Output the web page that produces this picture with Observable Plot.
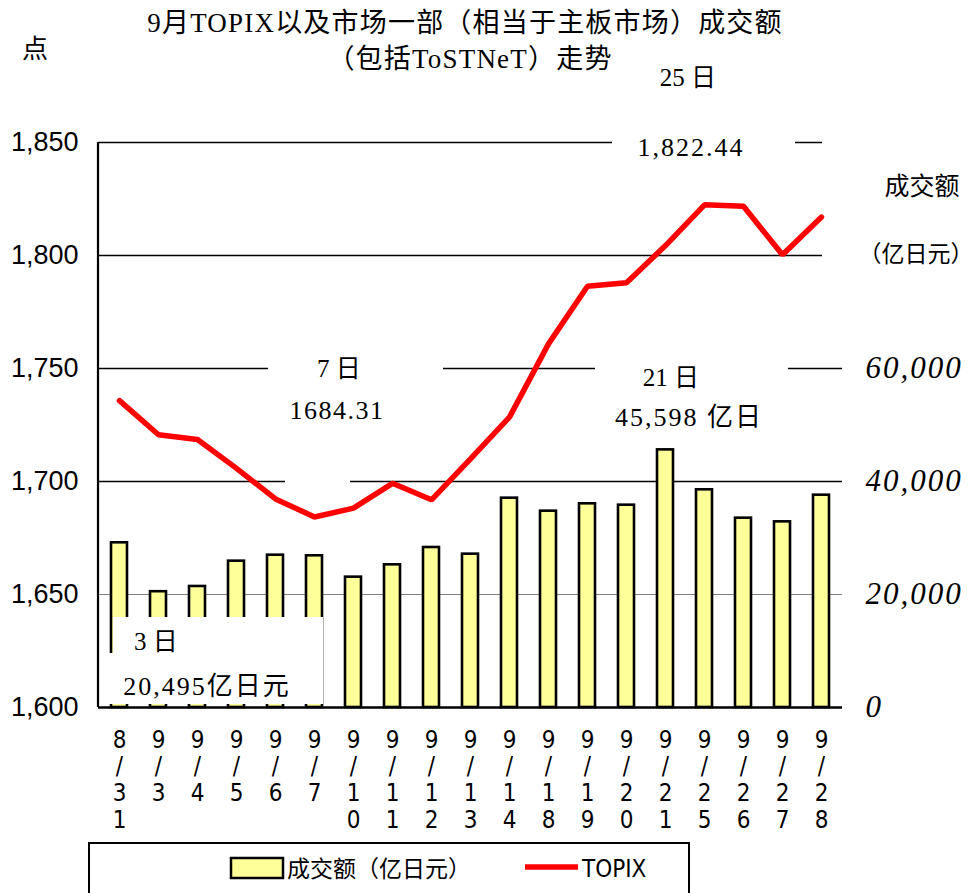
<!DOCTYPE html>
<html><head><meta charset="utf-8">
<script src="https://cdn.jsdelivr.net/npm/d3@7"></script>
<script src="https://cdn.jsdelivr.net/npm/@observablehq/plot@0.6"></script>
<style>
body{margin:0;background:#fff}
#chart{position:relative;width:976px;height:893px;overflow:hidden}
svg{display:block}
</style>
</head><body><div id="chart"></div>
<script>
// ---- data ----
const dates = ["8/31","9/3","9/4","9/5","9/6","9/7","9/10","9/11","9/12","9/13","9/14","9/18","9/19","9/20","9/21","9/25","9/26","9/27","9/28"];
const volume = [29150,20495,21420,25900,26960,26850,23070,25250,28320,27140,37050,34750,36050,35810,45598,38530,33510,32860,37580];
const topix = [1735.8,1720.7,1718.6,1705.8,1692.3,1684.31,1688.2,1699.2,1691.9,1710.0,1728.5,1760.9,1786.4,1787.9,1804.4,1822.44,1821.8,1800.3,1817.0];
const leftTicks = [1600,1650,1700,1750,1800,1850];
const rightTicks = [0,20000,40000,60000];
const titleLines = ["9月TOPIX以及市场一部（相当于主板市场）成交额","（包括ToSTNeT）走势"];
const legendLabels = ["成交额（亿日元）","TOPIX"];

// volume (亿日元) mapped onto the TOPIX axis: 0 → 1600, 20,000 → 1650
const volToY = v => 1600 + v * 50 / 20000;
const rows = dates.map((d,i)=>({date:d, vol:volume[i], topix:topix[i]}));

const serif = "'Liberation Serif','Noto Sans CJK SC',serif";
const cjk = "'Noto Sans CJK SC',sans-serif";
const narrow = "'Liberation Sans Narrow','DejaVu Sans Condensed','Liberation Sans',sans-serif";

const plot = Plot.plot({
  width:976, height:893,
  marginLeft:98, marginRight:134, marginTop:142, marginBottom:186,
  style:{background:"#fff", overflow:"visible"},
  x:{type:"band", domain:dates, paddingInner:0.6, paddingOuter:0.3, axis:null},
  y:{domain:[1600,1850], axis:null},
  marks:[
    Plot.ruleY([1650], {stroke:"#808080", strokeWidth:1.2}),
    Plot.ruleY([1700,1750,1800,1850], {stroke:"#000", strokeWidth:1.6}),
    Plot.barY(rows, {x:"date", y1:1600, y2:d=>volToY(d.vol), fill:"#FFFF99", stroke:"#000", strokeWidth:2.6}),
    Plot.line(rows, {x:"date", y:"topix", stroke:"#FF0000", strokeWidth:5.5, strokeLinejoin:"miter"}),
    Plot.ruleY([1600], {stroke:"#000", strokeWidth:2.4}),
    Plot.text(leftTicks, {y:d=>d, frameAnchor:"left", textAnchor:"end", dx:-20, text:d=>d3.format(",")(d), fontSize:27, fontFamily:"'Liberation Sans',sans-serif", fill:"#000"}),
    Plot.text(rightTicks, {y:d=>volToY(d), frameAnchor:"right", textAnchor:"start", dx:23, text:d=>d3.format(",")(d), fontSize:31, fontStyle:"italic", fontFamily:"'Liberation Serif',serif", fill:"#000"}),
    Plot.text(dates, {x:d=>d, frameAnchor:"bottom", lineAnchor:"top", dy:21, text:d=>d.split("").join("\n"), lineHeight:1.12, fontSize:24, fontFamily:narrow, fill:"#000"})
  ]
});
document.getElementById("chart").appendChild(plot);

const svg = d3.select(plot);
const xs = plot.scale("x"), ys = plot.scale("y");
const py = v => ys.apply(v);

// letter-spacing for right axis labels
svg.selectAll('g[aria-label="text"]').filter((d,i)=>i===1).attr("letter-spacing",2);

// left axis line
svg.append("line").attr("x1",98).attr("x2",98).attr("y1",py(1850)).attr("y2",py(1600)).attr("stroke","#000").attr("stroke-width",2.2);

// white annotation boxes (under the TOPIX line)
const boxes = [
  [612,58,183,110],   // 25日
  [268,345,175,75],   // 7日
  [285,420,65,78],    // 1684.31
  [595,350,193,90],   // 21日
  [113,617,210,38],   // 3日
  [99,653,224,51],    // 20,495
  [822,128,154,175]   // 成交额（亿日元）
];
boxes.forEach(([x,y,w,h])=>{
  svg.insert("rect",'g[aria-label="line"]').attr("x",x).attr("y",y).attr("width",w).attr("height",h).attr("fill","#fff");
});

function txt(s,x,y,size,family,anchor="middle",extra={}){
  const t = svg.append("text").attr("x",x).attr("y",y).attr("font-size",size).attr("font-family",family).attr("text-anchor",anchor).attr("fill","#000").text(s);
  for (const k in extra) t.attr(k, extra[k]);
  return t;
}
// title
txt(titleLines[0],465,32,27,serif,"middle",{"letter-spacing":1.2});
txt(titleLines[1],470,68,27,serif,"middle",{"letter-spacing":1.2});
txt("点",35,58,26,cjk);
// right axis title
txt("成交额",922,195,25,cjk);
txt("（亿日元）",916,262,23,cjk);
// annotations
const i25 = dates.indexOf("9/25"), i7 = dates.indexOf("9/7"), i21 = dates.indexOf("9/21"), i3 = dates.indexOf("9/3");
txt("25 日",688,86,25,serif);
txt(d3.format(",.2f")(topix[i25]),691,156,26,serif,"middle",{"letter-spacing":2});
txt("7 日",339,377,25,serif);
txt(topix[i7].toFixed(2),337,419,26,serif,"middle",{"letter-spacing":1.5});
txt("21 日",671,386,25,serif);
txt(d3.format(",")(volume[i21])+" 亿日",689,426,26,serif,"middle",{"letter-spacing":2});
txt("3 日",156,650,25,serif);
txt(d3.format(",")(volume[i3])+"亿日元",207,695,26,serif,"middle",{"letter-spacing":2});

// legend
svg.append("rect").attr("x",89).attr("y",843).attr("width",600).attr("height",70).attr("fill","#fff").attr("stroke","#000").attr("stroke-width",2);
svg.append("rect").attr("x",231).attr("y",858).attr("width",52).attr("height",20).attr("fill","#FFFF99").attr("stroke","#000").attr("stroke-width",2.5);
txt(legendLabels[0],287,877,23,cjk,"start");
svg.append("line").attr("x1",525).attr("x2",578).attr("y1",867).attr("y2",867).attr("stroke","#FF0000").attr("stroke-width",5.5);
txt(legendLabels[1],582,877,24,narrow,"start");
</script></body></html>
